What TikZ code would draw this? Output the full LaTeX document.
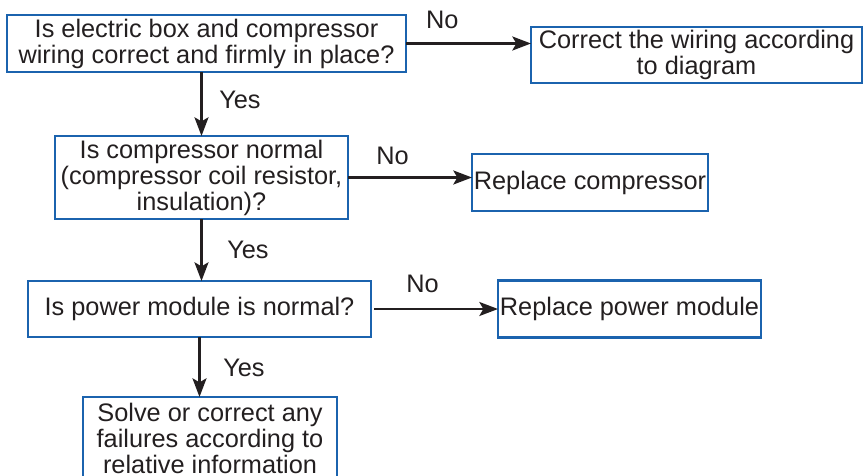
\documentclass[tikz,border=0pt]{standalone}
\usepackage{fontspec}
\setmainfont{Liberation Sans}
\usepackage{xcolor}
\usetikzlibrary{arrows.meta,positioning}
\definecolor{frame}{HTML}{1B63AE}
\definecolor{ink}{HTML}{231F20}

\begin{document}
\begin{tikzpicture}[x=0.75pt, y=-0.75pt,
  box/.style={draw=frame, line width=2pt, outer sep=0pt, align=center, inner sep=1pt, text=ink, font=\fontsize{19}{19.5}\selectfont, minimum width=#1},
  box/.default=100pt,
  lbl/.style={text=ink, font=\fontsize{19}{19.5}\selectfont, inner sep=2pt},
  flow/.style={->, line width=1.7pt, draw=ink},
  >={Stealth[length=14pt, width=10.5pt, inset=3pt]}]
\useasboundingbox (0,0) rectangle (864,475);
\node[box=299.25pt, minimum height=42.75pt] (wiring) at (206.5,43.5) {Is electric box and compressor\\ wiring correct and firmly in place?};
\node[box=248.25pt, minimum height=42pt, right=93.75pt of wiring, yshift=-8.6pt] (rewire) {Correct the wiring according\\ to diagram};
\node[box=219.75pt, minimum height=62.25pt, below=48pt of wiring, xshift=-3.75pt] (compchk) {Is compressor normal\\ (compressor coil resistor,\\ insulation)?};
\node[box=177pt, minimum height=42.75pt, right=93pt of compchk, yshift=-3.75pt] (repcomp) {Replace compressor};
\node[box=257.25pt, minimum height=42pt, below=46.5pt of compchk, xshift=-1.5pt] (modchk) {Is power module is normal?};
\node[box=197.25pt, minimum height=42.75pt, right=95.25pt of modchk] (reppm) {Replace power module};
\node[box=190.5pt, minimum height=62.25pt, below=45pt of modchk, xshift=7.9pt] (solve) {Solve or correct any\\ failures according to\\ relative information};
\draw[flow] (wiring.east) -- node[lbl, above=8pt, pos=0.29]{No} (wiring.east -| rewire.west);
\draw[flow] (compchk.north |- wiring.south) -- node[lbl, right=10.5pt, pos=0.44]{Yes} (compchk.north);
\draw[flow] (compchk.east) -- node[lbl, above=7pt, pos=0.36]{No} (compchk.east -| repcomp.west);
\draw[flow] (compchk.south) -- node[lbl, right=16.5pt, pos=0.5]{Yes} (compchk.south |- modchk.north);
\draw[flow] ([xshift=2.5pt]modchk.east) -- node[lbl, above=9pt, pos=0.39]{No} (modchk.east -| reppm.west);
\draw[flow] (modchk.south) -- node[lbl, right=15pt, pos=0.52]{Yes} (modchk.south |- solve.north);
\end{tikzpicture}
\end{document}
